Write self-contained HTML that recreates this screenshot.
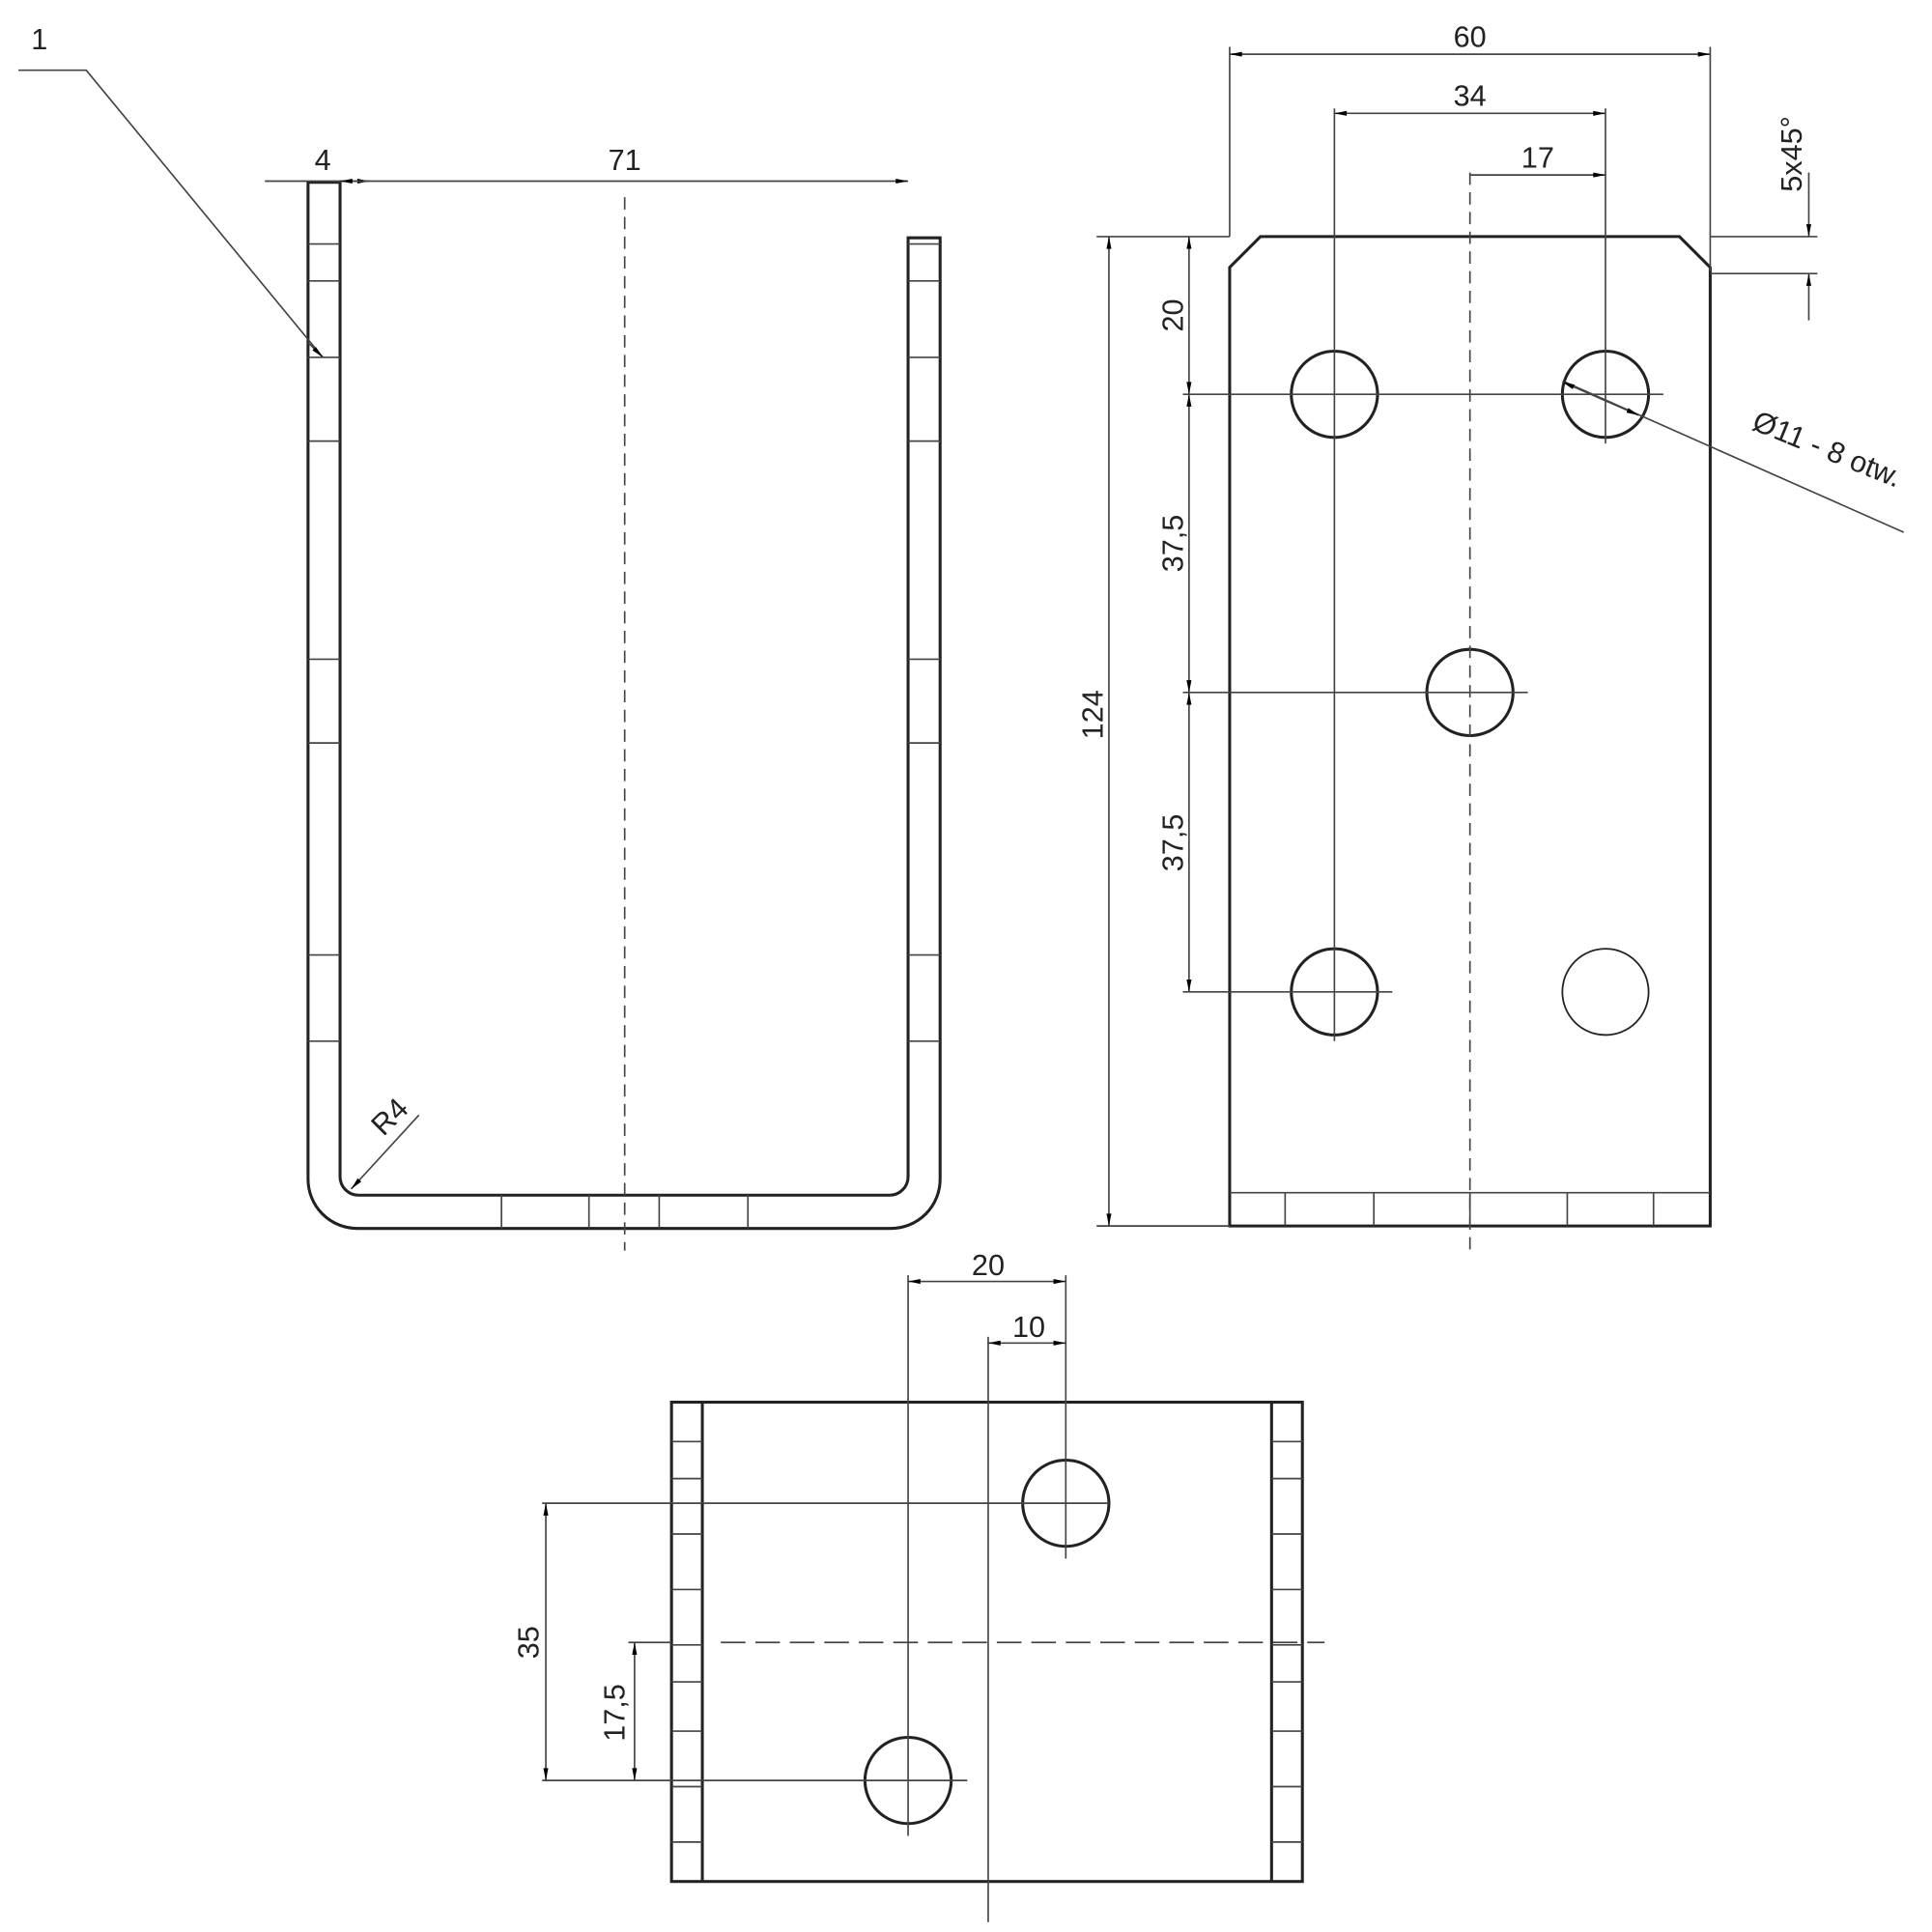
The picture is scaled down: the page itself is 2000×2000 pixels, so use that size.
<!DOCTYPE html>
<html><head><style>html,body{margin:0;padding:0;background:#fff}svg{display:block}</style></head>
<body>
<svg width="2000" height="2000" viewBox="0 0 1568 1568" xmlns="http://www.w3.org/2000/svg" font-family="Liberation Sans, sans-serif">
<defs>
<marker id="a" viewBox="0 0 10 6" refX="10" refY="3" markerWidth="11" markerHeight="6" orient="auto-start-reverse" markerUnits="userSpaceOnUse"><path d="M0,1 L10,3 L0,5z" fill="#000"/></marker>
</defs>
<g fill="none" stroke="#222" stroke-width="2.4">
<path d="M250,148 V957 A40,40 0 0 0 290,997 H723 A40,40 0 0 0 763,957 V193 H737 V955 A15,15 0 0 1 722,970 H291 A15,15 0 0 1 276,955 V148 Z"/>
</g>
<g stroke="#444" stroke-width="1.3" fill="none">
<path d="M250,198H276M250,228H276M250,290H276M250,358H276M250,535H276M250,603H276M250,775H276M250,845H276"/>
<path d="M737,198H763M737,228H763M737,290H763M737,358H763M737,535H763M737,603H763M737,775H763M737,845H763"/>
<path d="M407,970V997M478,970V997M535,970V997M607,970V997"/>
<path d="M507,160V1015" stroke-dasharray="10,6"/>
<path d="M215,147H300" marker-end="url(#a)"/>
<path d="M276,147H737" marker-start="url(#a)" marker-end="url(#a)"/>
<path d="M15,57H70L262,290" /><path d="M250,278L262,290" marker-end="url(#a)"/>
<path d="M340,905L285,965" marker-end="url(#a)"/>
</g>
<g font-size="24" fill="#222" text-anchor="middle" font-weight="500">
<text x="262" y="138">4</text><text x="507" y="138">71</text>
<text x="32" y="40">1</text>
<text x="0" y="0" transform="translate(322,912) rotate(-45)">R4</text>
</g>

<g fill="none" stroke="#222" stroke-width="2.4">
<path d="M998,995V217L1023,192H1363L1388,217V995Z"/>
<circle cx="1083" cy="320" r="35"/><circle cx="1303" cy="320" r="35"/>
<circle cx="1193" cy="562" r="35"/><circle cx="1083" cy="805" r="35"/>
<circle cx="1303" cy="805" r="35" stroke-width="1.4"/>
</g>
<g stroke="#444" stroke-width="1.3" fill="none">
<path d="M998,968H1388M1043,968V995M1115,968V995M1193,968V995M1272,968V995M1342,968V995"/>
<path d="M1083,88V845M1303,88V360M998,38V192M1388,38V220"/>
<path d="M1193,140V1015" stroke-dasharray="10,6"/>
<path d="M998,44H1388" marker-start="url(#a)" marker-end="url(#a)"/>
<path d="M1083,92H1303" marker-start="url(#a)" marker-end="url(#a)"/>
<path d="M1193,142H1303" marker-end="url(#a)"/>
<path d="M1388,192H1475M1388,222H1475"/>
<path d="M1468,140V192" marker-end="url(#a)"/><path d="M1468,260V222" marker-end="url(#a)"/>
<path d="M890,192H998M890,995H998"/>
<path d="M900,192V995" marker-start="url(#a)" marker-end="url(#a)"/>
<path d="M960,320H1350M960,562H1240M960,805H1130"/>
<path d="M965,192V320" marker-start="url(#a)" marker-end="url(#a)"/>
<path d="M965,320V562" marker-start="url(#a)" marker-end="url(#a)"/>
<path d="M965,562V805" marker-start="url(#a)" marker-end="url(#a)"/>
<path d="M1545,432L1270,310"/>
<path d="M1330,337L1268,310" marker-start="url(#a)" marker-end="url(#a)"/>
</g>
<g font-size="24" fill="#222" text-anchor="middle" font-weight="500">
<text x="1193" y="38">60</text><text x="1193" y="86">34</text><text x="1248" y="136">17</text>
<text transform="translate(1462,125) rotate(-90)">5x45°</text>
<text transform="translate(895,580) rotate(-90)">124</text>
<text transform="translate(960,256) rotate(-90)">20</text>
<text transform="translate(960,441) rotate(-90)">37,5</text>
<text transform="translate(960,684) rotate(-90)">37,5</text>
<text transform="translate(1480,372) rotate(22)">Ø11 - 8 otw.</text>
</g>

<g fill="none" stroke="#222" stroke-width="2.4">
<rect x="545" y="1138" width="512" height="389"/>
<path d="M570,1138V1527M1032,1138V1527"/>
<circle cx="865" cy="1220" r="35"/><circle cx="737" cy="1445" r="35"/>
</g>
<g stroke="#444" stroke-width="1.3" fill="none">
<path d="M545,1170H570M545,1200H570M545,1245H570M545,1290H570M545,1335H570M545,1365H570M545,1405H570M545,1450H570M545,1495H570"/>
<path d="M1032,1170H1057M1032,1200H1057M1032,1245H1057M1032,1290H1057M1032,1335H1057M1032,1365H1057M1032,1405H1057M1032,1450H1057M1032,1495H1057"/>
<path d="M585,1333H1075" stroke-dasharray="20,8"/>
<path d="M737,1035V1490M802,1085V1560M865,1035V1265"/>
<path d="M737,1040H865" marker-start="url(#a)" marker-end="url(#a)"/>
<path d="M802,1090H865" marker-start="url(#a)" marker-end="url(#a)"/>
<path d="M440,1220H900M510,1333H545M440,1445H785"/>
<path d="M443,1220V1445" marker-start="url(#a)" marker-end="url(#a)"/>
<path d="M515,1333V1445" marker-start="url(#a)" marker-end="url(#a)"/>
</g>
<g font-size="24" fill="#222" text-anchor="middle" font-weight="500">
<text x="802" y="1035">20</text><text x="835" y="1085">10</text>
<text transform="translate(437,1333) rotate(-90)">35</text>
<text transform="translate(507,1390) rotate(-90)">17,5</text>
</g>
</svg>
</body></html>
